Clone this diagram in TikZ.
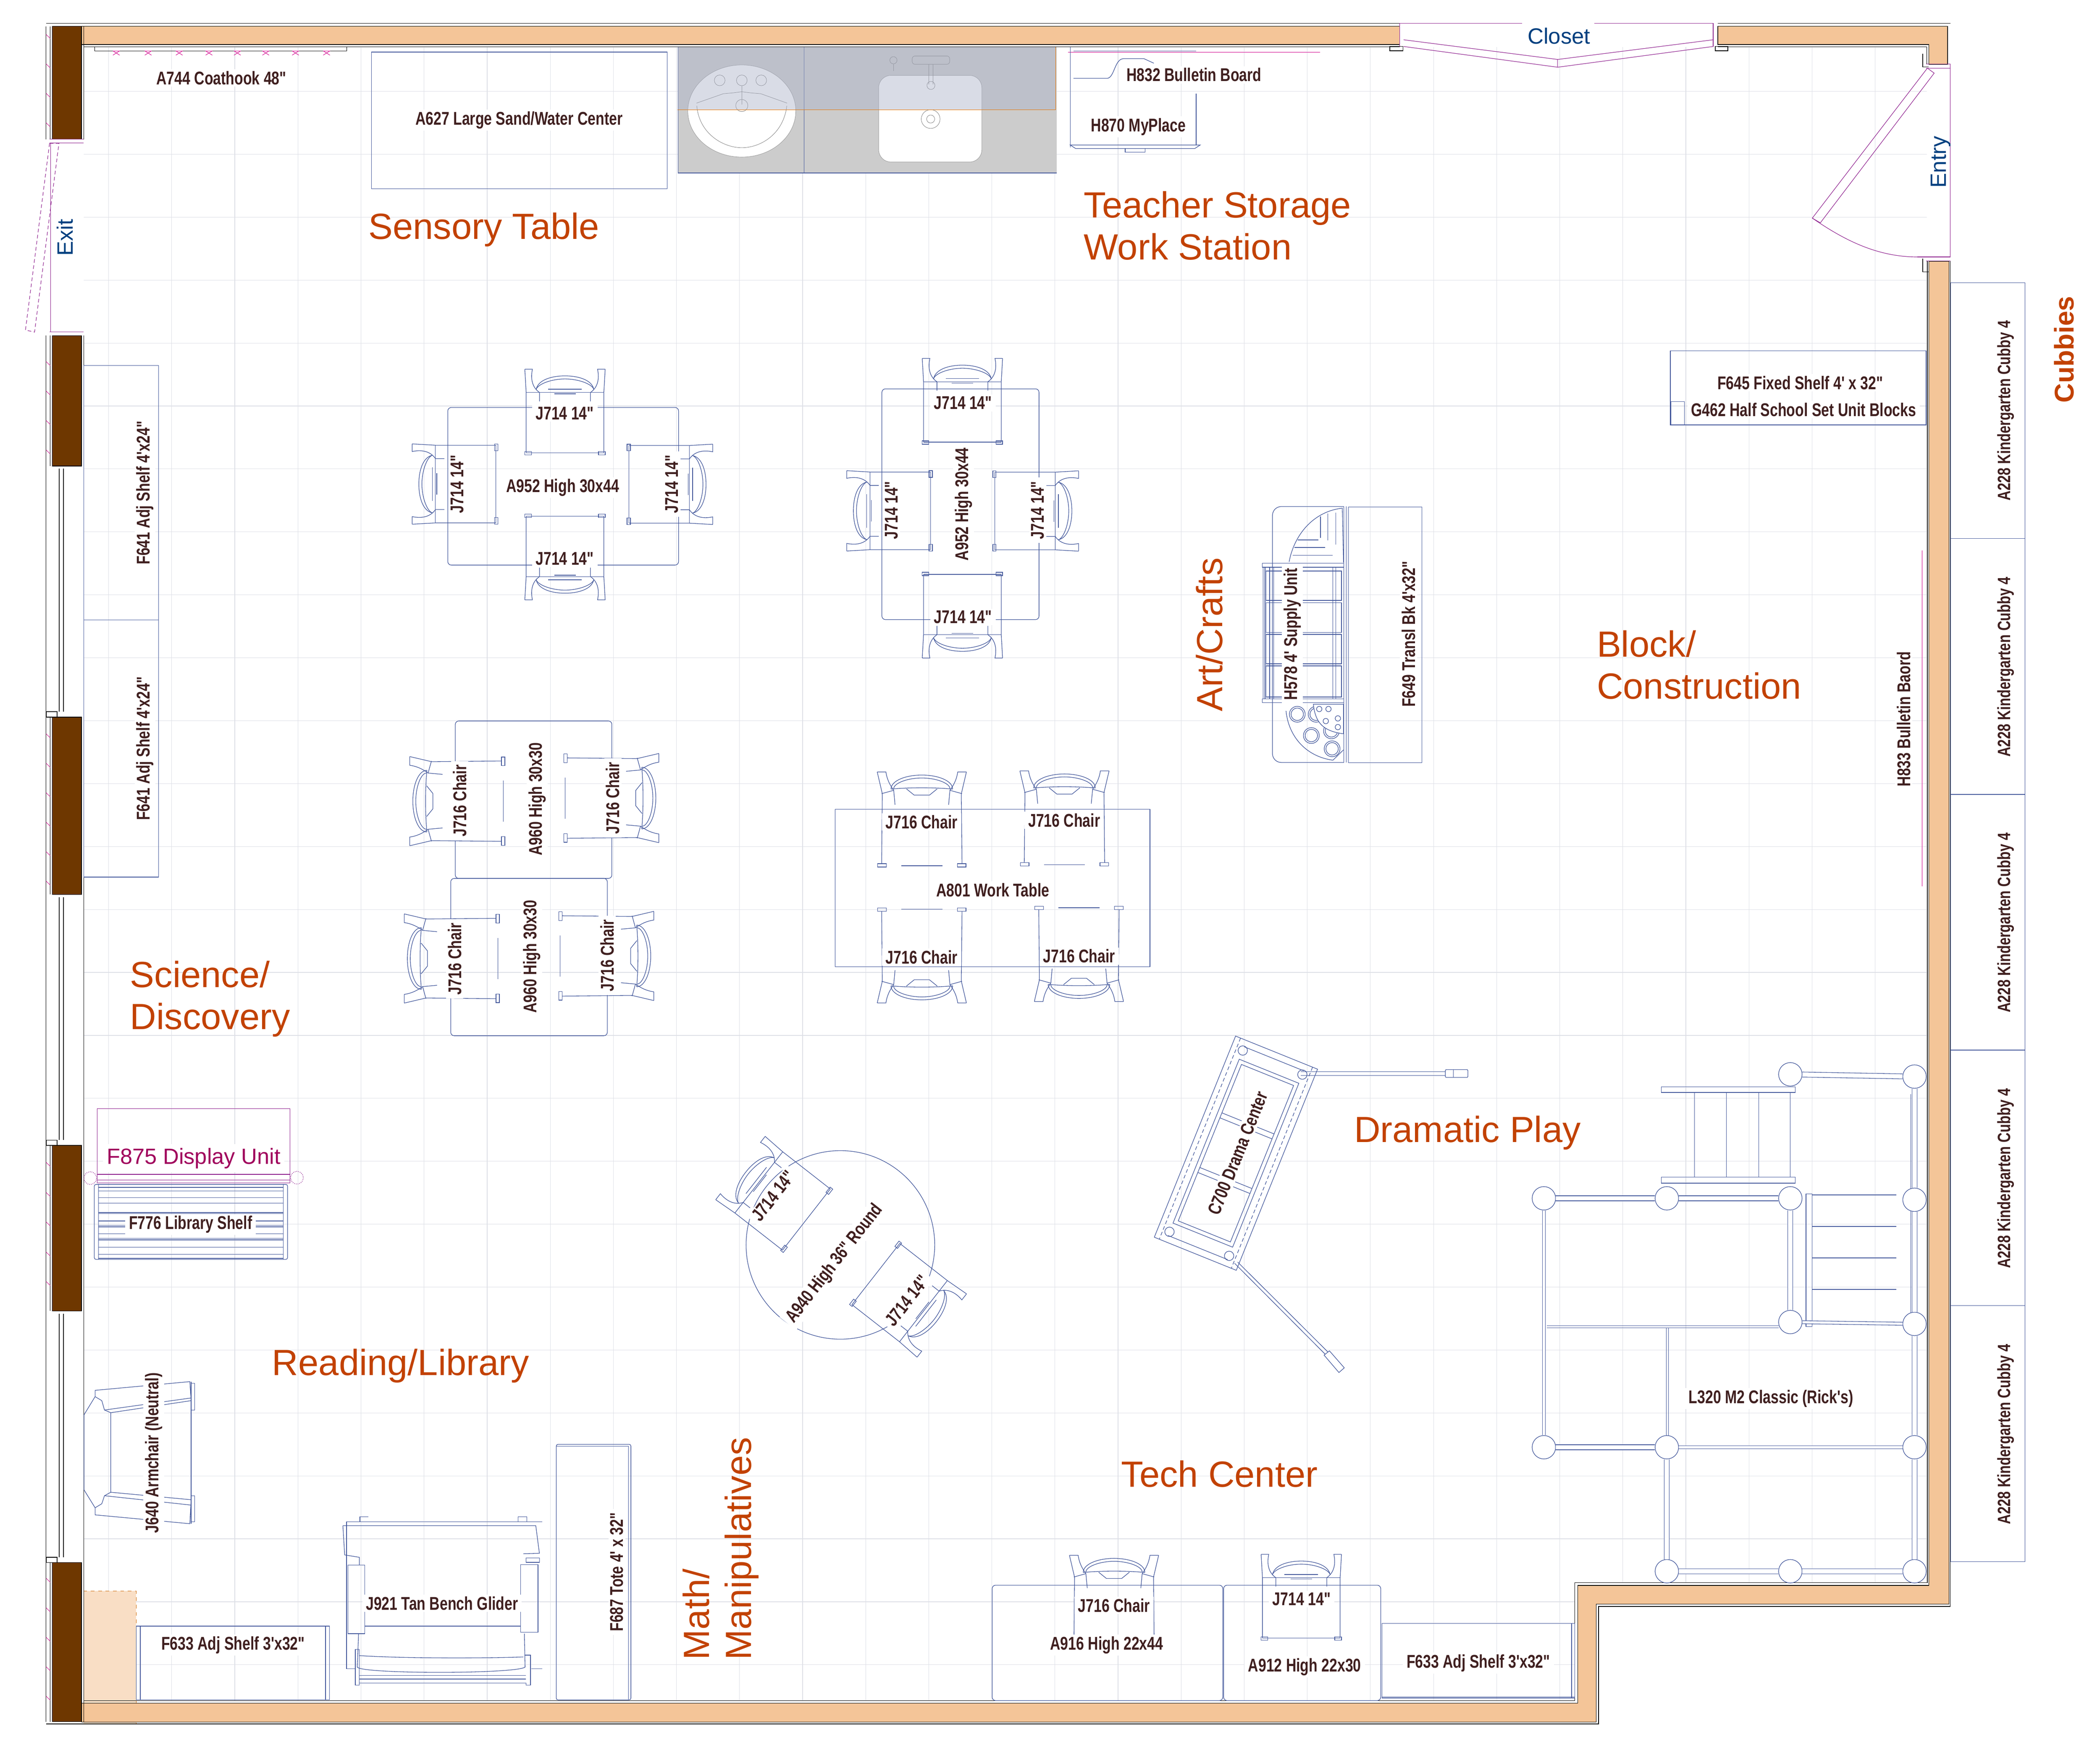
\documentclass[tikz,border=0pt]{standalone}
\usepackage{fontspec}
\usepackage{xcolor}
\usetikzlibrary{positioning}
\setmainfont{Liberation Sans}
\newfontfamily\narrowfont[FakeStretch=0.77]{Liberation Sans}
\definecolor{walltan}{HTML}{F4C598}
\definecolor{wallbrown}{HTML}{6E3700}
\definecolor{furnblue}{HTML}{3F5499}
\definecolor{doorpurple}{HTML}{8B1A8B}
\definecolor{gridgrey}{HTML}{DDDFE6}
\definecolor{zonered}{HTML}{C24100}
\definecolor{signblue}{HTML}{003F7F}
\definecolor{itemtext}{HTML}{3F1F1F}
\definecolor{displayred}{HTML}{A0005C}
\definecolor{hookpink}{HTML}{D0008A}
\definecolor{patchtan}{HTML}{F9DEC5}
\definecolor{sinktop}{HTML}{ABB2C8}
\begin{document}
\begin{tikzpicture}[x=0.03827cm, y=-0.03827cm,
			furn/.style={draw=furnblue, line width=0.45pt},
			door/.style={draw=doorpurple, line width=0.4pt},
			wallline/.style={draw=black, line width=0.5pt},
			item/.style={fill=white, text=itemtext, inner xsep=3pt, inner ysep=1.5pt, align=center, font=\narrowfont\fontsize{15}{18}\selectfont\bfseries},
			itemv/.style={item, xshift=0.05cm, rotate=90},
			cubbylabel/.style={itemv, font=\narrowfont\fontsize{14.5}{18}\selectfont\bfseries},
			zone/.style={text=zonered, inner sep=0pt, align=left, font=\fontsize{29.6}{34}\selectfont},
			sign/.style={text=signblue, inner sep=0pt, font=\fontsize{18}{22}\selectfont},
			post/.style={circle, draw=furnblue, line width=0.45pt, fill=white, minimum size=0.67cm, inner sep=0pt},
			beam/.style={draw=furnblue, line width=0.45pt, double=white, double distance=3.6pt},
			beamthin/.style={draw=furnblue, line width=0.45pt, double=white, double distance=2pt},
			chairA/.pic={
					\foreach \s in {-1,1}{
							\draw[furn] ({\s*30},-32) -- ({\s*24.3},-32) .. controls ({\s*26},-24) and ({\s*24},-18) .. ({\s*19},-14.6) -- ({\s*19},-8);
							\draw[furn] ({\s*30},-32) -- ({\s*29},-14.6) -- ({\s*29},30.5);
							\draw[furn] ({\s*30},29.5) rectangle ({\s*25},32);
						}
					\draw[furn] (-21.5,-17) .. controls (-20,-24) and (-10,-27) .. (0,-27) .. controls (10,-27) and (20,-24) .. (21.5,-17);
					\draw[furn] (-21.5,-17) .. controls (-20,-21) and (-10,-24.7) .. (0,-24.7) .. controls (10,-24.7) and (20,-21) .. (21.5,-17);
					\draw[furn] (-29,-14.6) -- (29,-14.6);
					\draw[furn] (-12.5,-17) -- (12.5,-17);
					\draw[furn] (-8,-13.6) -- (8,-13.6);
					\draw[furn] (-29,30.5) -- (29,30.5);
				},
			chairB/.pic={
					\foreach \s in {-1,1}{
							\draw[furn] ({\s*33.3},-35.5) -- ({\s*26.8},-35.5) .. controls ({\s*26},-30) and ({\s*24},-26) .. ({\s*21},-21.8) -- ({\s*20},-11);
							\draw[furn] ({\s*33.3},-35.5) -- ({\s*29.5},-19.3) -- ({\s*30},33);
							\draw[furn] ({\s*33},33) rectangle ({\s*26.5},35.5);
							\draw[furn] ({\s*21},-21.8) -- ({\s*30},-19.3);
						}
					\draw[furn] (-23,-22.7) .. controls (-23,-29) and (-12,-33.2) .. (0,-33.2) .. controls (12,-33.2) and (23,-29) .. (23,-22.7);
					\draw[furn] (-21,-23) .. controls (-21,-27) and (-11,-31) .. (0,-31) .. controls (11,-31) and (21,-27) .. (21,-23);
					\draw[furn] (-23,-22.7) .. controls (-10,-24) and (10,-24) .. (23,-22.7);
					\draw[furn] (-11.5,-22.9) -- (-5.7,-18.2) -- (5.7,-18.2) -- (11.5,-22.9);
					\draw[furn] (-15.3,34.5) -- (15.3,34.5);
				}
		]
	\useasboundingbox (0,0) rectangle (1567.8,1306.8);
	% Floor grid
	\begin{scope}
		\clip (62.5,35) -- (1438.5,35) -- (1438.5,1182) -- (1175.7,1182) -- (1175.7,1270) -- (62.5,1270) -- cycle;
		\foreach \x in {81.1,128.2,...,1440}{
				\draw[gridgrey, line width=0.4pt] (\x,35) -- (\x,1270);
			}
		\foreach \y in {68.2,115.2,...,1270}{
				\draw[gridgrey, line width=0.4pt] (62.5,\y) -- (1438.5,\y);
			}
	\end{scope}
	% Walls
	\fill[patchtan] (62.3,1188.2) rectangle (101.7,1287.3);
	\draw[draw=orange!80!black, dashed, line width=0.4pt] (62.3,1188.2) -- (101.7,1188.2) -- (101.7,1287.3);
	\filldraw[fill=walltan, wallline] (61,19.6) -- (1045,19.6) -- (1045,33.2) -- (61,33.2) -- cycle;
	\filldraw[fill=walltan, wallline] (1282.4,19.6) -- (1454,19.6) -- (1454,47.9) -- (1440,47.9) -- (1440,33.2) -- (1282.4,33.2) -- cycle;
	\filldraw[fill=walltan, wallline] (1440,195) -- (1455,195) -- (1455,1198) -- (1191.6,1198) -- (1191.6,1286) -- (61,1286) -- (61,1272) -- (1177.8,1272) -- (1177.8,1184) -- (1440,1184) -- cycle;
	\draw[wallline] (62.5,35) -- (1045,35);
	\draw[wallline] (1282.4,35) -- (1438.5,35) -- (1438.5,48);
	\draw[wallline] (34.4,17.4) -- (1045,17.4);
	\draw[wallline] (1282.4,17.4) -- (1456,17.4);
	\draw[wallline] (1438.9,195) -- (1438.9,1182) -- (1175.7,1182) -- (1175.7,1270) -- (62.5,1270);
	\draw[wallline] (1456,195) -- (1456,1199.7) -- (1193.4,1199.7) -- (1193.4,1287.5) -- (34.4,1287.5);
	\draw[wallline] (1435.5,40) -- (1435.5,50) -- (1440,50);
	\draw[wallline] (1435.5,193) -- (1435.5,203) -- (1440,203);
	\draw[wallline] (1037.5,34.7) rectangle (1047.5,38);
	\draw[wallline] (1280.5,34.7) rectangle (1290,38);
	% Left wall piers and windows
	\foreach \a/\b in {19.6/104,250.6/348,535.5/668,855.4/979,1166.9/1285.8}{
			\filldraw[fill=wallbrown, wallline] (39,\a) rectangle (60.9,\b);
			\draw[wallline] (34.4,\a) -- (34.4,\b);
			\draw[wallline] (37.5,\a) -- (37.5,\b);
			\draw[wallline] (62.5,\a) -- (62.5,\b);
		}
	\foreach \a/\b in {348/535.5,668/855.4,979/1166.9}{
			\draw[wallline] (34.4,\a) -- (34.4,\b);
			\draw[wallline] (62.5,\a) -- (62.5,\b);
			\draw[wallline] (44.2,{\a+2}) -- (44.2,{\b-4});
			\draw[wallline] (47.4,{\a+2}) -- (47.4,{\b-4});
			\draw[wallline] (34.7,{\b-4}) rectangle (42.7,\b);
		}
	\foreach \y in {25.7,47.7,69.7,91.7,270,292,314,336,548,570,592,614,636,658,868,890.5,912.5,935,957,1178.6,1200.7,1222.7,1244.7,1266.7}{
			\draw[hookpink, line width=0.3pt] (34.4,\y) -- (37.5,{\y+3});
		}
	% Exit door, closet and entry
	\draw[door] (37,104) -- (62.5,104);
	\draw[door] (37,106.7) -- (62.5,106.7);
	\draw[door] (37,247.8) -- (62.5,247.8);
	\draw[door] (37.7,106.7) -- (37.7,247.8);
	\draw[door, densely dashed] (37,107) -- (19,246.5) -- (25.8,248) -- (44,107) -- cycle;
	\draw[door] (1045,17.3) -- (1045,34.7);
	\draw[door] (1279,17.3) -- (1279,34.7);
	\draw[door] (1045,17.3) -- (1136.4,17.3);
	\draw[door] (1190.4,17.3) -- (1279,17.3);
	\draw[door] (1047.9,29.7) -- (1162.9,44.4) -- (1279,29.7);
	\draw[door] (1047.9,34.7) -- (1162.9,50.2) -- (1279,34.7);
	\draw[door] (1162.9,44.4) -- (1162.9,50.2);
	\draw[door] (1438,47.9) -- (1456,47.9);
	\draw[door] (1438,50.9) -- (1456,50.9);
	\draw[door] (1431.5,191.9) -- (1456,191.9);
	\draw[door] (1438,195) -- (1456,195);
	\draw[door] (1456,47.9) -- (1456,191.9);
	\draw[door] (1438.9,50.9) -- (1444,54.6) -- (1359,166.4) -- (1353,162.9) -- cycle;
	\draw[door] (1353,162.9) .. controls (1375,178) and (1400,191.9) .. (1431.5,191.9);
	% Coat hooks
	\draw[wallline, line width=0.3pt] (70.8,35) rectangle (258.8,38);
	\foreach \x in {86.8,110.6,133.8,156,177.2,198.4,220.6,243.8}{
			\draw[hookpink, line width=0.35pt] ({\x-2.5},38) -- ({\x+2.5},41.2);
			\draw[hookpink, line width=0.35pt] ({\x+2.5},38) -- ({\x-2.5},41.2);
			\draw[hookpink, line width=0.35pt] ({\x-2.5},38) -- ({\x+2.5},38);
		}
	% Sand table and sinks
	\draw[furn] (277.4,38.9) rectangle (498,141);
	\fill[black!20] (506.3,35) rectangle (789,129.2);
	\draw[furn] (506.3,35) -- (506.3,129.2) -- (789,129.2);
	\draw[furn] (600.3,35) -- (600.3,129.2);
	\filldraw[fill=white, draw=black!40, line width=0.3pt] (553.8,82.9) ellipse [x radius=40.3, y radius=34.4];
	\draw[black!50, line width=0.3pt] (520.2,79) .. controls (522,100) and (540,110.3) .. (553.8,110.3) .. controls (568,110.3) and (585,100) .. (587.4,79);
	\draw[black!50, line width=0.3pt] (520,77) -- (540,70) -- (547.6,69.3) -- (553.8,68.5) -- (560,69.3) -- (568,70) -- (587.6,77);
	\foreach \x in {537.3,553.8,568.3}{
			\draw[black!50, line width=0.3pt] (\x,60) circle [radius=4];
		}
	\draw[black!50, line width=0.3pt] (553.8,64) -- (553.8,78);
	\draw[black!50, line width=0.3pt] (553.8,78.8) circle [radius=4.5];
	\filldraw[fill=white, draw=black!40, line width=0.3pt, rounded corners=0.35cm] (656,56.3) rectangle (733,121);
	\draw[black!50, line width=0.3pt] (694.8,88.9) circle [radius=7];
	\draw[black!50, line width=0.3pt] (694.8,88.9) circle [radius=3];
	\draw[black!50, line width=0.3pt, rounded corners=0.08cm] (681,41.8) rectangle (709,48);
	\draw[black!50, line width=0.3pt] (693.5,48) -- (693.5,63);
	\draw[black!50, line width=0.3pt] (696.5,48) -- (696.5,63);
	\draw[black!50, line width=0.3pt] (695,63.8) circle [radius=3];
	\draw[black!50, line width=0.3pt] (667,45) circle [radius=2.7];
	\draw[black!50, line width=0.3pt] (667,48) -- (667,53);
	\fill[sinktop, fill opacity=0.45] (505.7,35) rectangle (788,82.1);
	\draw[draw=orange!90!black, line width=0.35pt] (505.7,82.1) -- (788,82.1) -- (788,35);
	% Teacher storage
	\draw[hookpink, line width=0.4pt] (797.4,39) -- (985.4,39);
	\draw[furn] (801.4,38.1) -- (893,38.1);
	\draw[furn] (799.2,35) -- (799.2,110);
	\draw[furn] (801.4,58.5) -- (826.4,58.5) .. controls (832,58.5) and (832,43.8) .. (838.9,43.8) -- (854,43.8) -- (861.4,47.2);
	\draw[furn] (893,70) -- (893,108.3);
	\draw[furn] (799,108.3) -- (896,108.3) -- (892,110.9) -- (803,110.9) -- cycle;
	\draw[furn] (840,113.7) rectangle (855,110.9);
	% Bulletin board and block shelves
	\draw[hookpink, line width=0.4pt] (1435,411) -- (1435,662);
	\draw[furn] (1247,262) rectangle (1438,317.3);
	\draw[furn] (1247.5,300) rectangle (1257.5,317.3);
	% Cubbies
	\foreach \a/\b in {211.2/402.2,402.2/593.2,593.2/784.2,784.2/975.1,975.1/1166.3}{
			\draw[furn] (1456.3,\a) rectangle (1511.7,\b);
		}
	% Wall shelves
	\draw[furn] (62.5,273) rectangle (118.3,463);
	\draw[furn] (62.5,463) rectangle (118.3,655);
	% Display unit and library shelf
	\draw[door] (72.5,827.9) rectangle (216.5,883.5);
	\draw[door] (72.5,877) -- (216.5,877);
	\draw[door] (72.5,881.2) -- (216.5,881.2);
	\draw[door, densely dotted, line width=0.6pt] (67.4,879.8) circle [radius=4.7];
	\draw[door, densely dotted, line width=0.6pt] (221.7,879.5) circle [radius=4.7];
	\draw[furn, rounded corners=0.05cm] (70.4,884.5) rectangle (214.7,940.5);
	\draw[furn] (73.5,884.5) -- (73.5,940.5);
	\draw[furn] (211.5,884.5) -- (211.5,940.5);
	\foreach \y in {886.7,889.5,894.5,898.4,905.5,906.3,911.8,915.2,916.2,921.4,924.8,925.9,931.4,936.8,939.7}{
			\draw[furn] (73.5,\y) -- (211.5,\y);
		}
	% Tables with J714 chairs
	\draw[furn, rounded corners=0.1cm] (334.3,304.3) rectangle (506.6,422);
	\pic at (421.8,307.7) {chairA};
	\pic[rotate=180] at (421.8,416) {chairA};
	\pic[rotate=90] at (339.7,361.5) {chairA};
	\pic[rotate=-90] at (500.1,361.7) {chairA};
	\draw[furn, rounded corners=0.1cm] (658.4,290.4) rectangle (775.7,462.7);
	\pic at (718.5,299.7) {chairA};
	\pic[rotate=180] at (718.5,459.4) {chairA};
	\pic[rotate=90] at (664.1,381.5) {chairA};
	\pic[rotate=-90] at (773.2,381.6) {chairA};
	% Tables with J716 chairs
	\draw[furn, rounded corners=0.1cm] (339.9,538.4) rectangle (456.8,656);
	\draw[furn, rounded corners=0.1cm] (336.5,656) rectangle (453.4,773.5);
	\pic[rotate=90] at (341.4,598.3) {chairB};
	\pic[rotate=-90] at (456.4,596) {chairB};
	\pic[rotate=90] at (337.3,715.8) {chairB};
	\pic[rotate=-90] at (452.6,713.9) {chairB};
	\draw[furn] (623.6,604.4) rectangle (858.5,722);
	\pic at (688.2,612) {chairB};
	\pic at (794.7,611.2) {chairB};
	\pic[rotate=180] at (688.2,713.5) {chairB};
	\pic[rotate=180] at (805.5,712.4) {chairB};
	% Round table
	\draw[furn] (627.4,929.7) circle [radius=70.4];
	\pic[rotate=52] at (578,892) {chairA};
	\pic[rotate=232] at (677.9,970.2) {chairA};
	% Supply unit and shelf
	\draw[furn] (1006.6,378.6) rectangle (1061.6,569.6);
	\draw[furn] (1003.3,378.3) -- (1003.3,569.4);
	\draw[furn] (1005,378.3) -- (1005,569.4);
	\draw[furn, rounded corners=0.25cm] (1003.3,378.3) -- (950,378.3) -- (950,569.4) -- (1003.3,569.4);
	\draw[furn] (962.4,419.6) .. controls (966,400) and (980,382) .. (1002.1,379.5) -- (1003,420);
	\draw[furn] (960.1,530.9) .. controls (962,550) and (975,565) .. (995.1,567.7) -- (1003,560);
	\foreach \a/\b in {985.8/385.6,991.4/383.5,997.2/382.8}{
			\draw[furn] (\a,\b) -- (\a,{\b+16+(\a-985.8)*0.7});
		}
	\draw[furn] (968.9,403.2) -- (984.1,403.2);
	\draw[furn] (966.5,408.9) -- (989.3,408.9);
	\draw[furn] (965,414.7) -- (994.9,414.7);
	\draw[furn] (942.4,420.6) rectangle (1003.3,423.6);
	\draw[furn] (942.4,522) rectangle (1003.3,524.8);
	\foreach \a/\b in {426.4/448.4,450.1/472.4,473.8/495.7,497.3/520.5}{
			\draw[furn] (945.2,\a) rectangle (1001.5,\b);
		}
	\draw[furn] (943,423.6) -- (943,522);
	\draw[furn] (944.4,423.6) -- (944.4,522);
	\draw[furn] (947.9,423.6) -- (947.9,522);
	\draw[furn] (950.8,423.6) -- (950.8,522);
	\draw[furn] (995.1,423.6) -- (995.1,522);
	\draw[furn] (997.2,423.6) -- (997.2,522);
	\foreach \a/\b in {968.5/533.4,982.6/533.4,979/549.3,994/545.8,994.5/559.2}{
			\draw[furn] (\a,\b) circle [radius=5.9];
			\draw[furn] (\a,\b) circle [radius=4.6];
		}
	\filldraw[fill=white, draw=furnblue, line width=0.45pt] (980.5,525.9) .. controls (982,540) and (988,546) .. (1003,548) -- (1003,525.9) -- cycle;
	\foreach \a/\b in {984.9/529.5,991.8/529.5,989.8/538.5,998.8/536.5,998.8/543}{
			\draw[furn] (\a,\b) circle [radius=2];
		}
	% Drama center
	\begin{scope}[shift={(922.7,861.2)}, rotate=-22]
		\draw[furn] (-33,-81) rectangle (33,81);
		\draw[furn, densely dashed] (-29,-81) -- (-29,81);
		\draw[furn, densely dashed] (29,-81) -- (29,81);
		\draw[furn] (-24,-66) rectangle (24,66);
		\draw[furn] (-21,-63) rectangle (21,63);
		\foreach \y in {-24,-20,20,24}{
				\draw[furn] (-21,\y) -- (21,\y);
			}
		\draw[furn] (-24,-76) -- (24,-76);
		\draw[furn] (-24,76) -- (24,76);
		\foreach \a/\b in {-24/-73,24/-73,-24/73,24/73}{
				\draw[furn] (\a,\b) circle [radius=3.5];
			}
	\end{scope}
	\draw[furn] (971.2,800.3) -- (1079,800.3);
	\draw[furn] (971.2,803.1) -- (1079,803.1);
	\draw[furn, rounded corners=0.03cm] (1079,798.8) rectangle (1095.9,804.6);
	\draw[furn] (1085,798.8) -- (1085,804.6);
	\draw[furn] (921.7,943.4) -- (989.5,1011.5);
	\draw[furn] (924,942.5) -- (991.5,1009.8);
	\draw[furn] (988.5,1012) -- (992.5,1008.8) -- (1003.6,1021.5) -- (999.6,1025) -- cycle;
	% Playground ladder and slide rails
	\draw[furn] (1240.3,811.6) rectangle (1340.2,815.9);
	\draw[furn] (1240.3,879) rectangle (1340.2,883.6);
	\foreach \x in {1265,1288.9,1313,1336.6}{
			\draw[furn] (\x,815.9) -- (\x,879);
		}
	\draw[furn] (1348.3,891.5) rectangle (1352.8,990.7);
	\foreach \y in {892.4,915.9,939.4,962.9,987.8}{
			\draw[furn] (1352.8,\y) -- (1415.8,\y);
		}
	\draw[furn] (1426.6,817) -- (1426.6,981.6);
	% Playground posts
	\node [post] (p1) at (1336.6,802.3) {};
	\node [post] (p2) at (1429.3,804) {};
	\node [post] (p3) at (1152.6,894.9) {};
	\node [post] (p4) at (1244.4,894.9) {};
	\node [post] (p5) at (1336.6,894.9) {};
	\node [post] (p6) at (1429.3,896) {};
	\node [post] (p7) at (1336.6,987.3) {};
	\node [post] (p8) at (1429.3,988.7) {};
	\node [post] (p9) at (1152.6,1080.8) {};
	\node [post] (p10) at (1244.4,1080.8) {};
	\node [post] (p11) at (1429.3,1080.8) {};
	\node [post] (p12) at (1244.4,1173.4) {};
	\node [post] (p13) at (1336.6,1173.4) {};
	\node [post] (p14) at (1429.3,1173.4) {};
	% Playground beams
	\path [beam] (p1) -- (p2);
	\path [beam] (p3) -- (p4);
	\path [beam] (p4) -- (p5);
	\path [beamthin] (p3) -- (p9);
	\path [beam] (p9) -- (p10);
	\path [beamthin] (p10) -- (p11);
	\path [beam] (p12) -- (p13);
	\path [beam] (p13) -- (p14);
	\path [beam] (p10) -- (p12);
	\path [beam] (p5) -- (p7);
	\path [beam] (p2) -- (p6);
	\path [beam] (p6) -- (p8);
	\path [beam] (p8) -- (p11);
	\path [beam] (p11) -- (p14);
	\path [beamthin] (p7) -- (p8);
	\draw[furn] (1154.8,990.1) -- (1328,990.1);
	\draw[furn] (1154.8,991.6) -- (1328,991.6);
	\draw[furn] (1244,991.6) -- (1244,1072);
	\draw[furn] (1245.5,991.6) -- (1245.5,1072);
	% Armchair
	\draw[furn] (71,1043) -- (71,1038.3) -- (141.7,1031.8) -- (142.7,1046) -- (82.7,1055) -- (82.7,1114.4) -- (142.7,1120) -- (141.7,1137.9) -- (71,1131.3) -- (71,1126);
	\draw[furn] (142.7,1031.8) -- (142.7,1137.9);
	\draw[furn] (142.7,1033) rectangle (145.3,1053);
	\draw[furn] (142.7,1117) rectangle (145.3,1136.4);
	\draw[furn] (71,1043) -- (76,1046) -- (78,1053) -- (82.7,1055);
	\draw[furn] (71,1126) -- (76,1123) -- (78,1117) -- (82.7,1114.4);
	\draw[furn] (71,1043) -- (62.7,1056.6) -- (62.7,1112.6) -- (71,1126);
	\draw[furn] (78,1053) -- (142.7,1044);
	\draw[furn] (78,1117) -- (142.7,1124);
	% Bench glider
	\draw[furn] (258.7,1136.4) -- (404.7,1136.4);
	\draw[furn] (268.7,1136.4) -- (268.7,1132.8) -- (275,1132.8);
	\draw[furn] (386.7,1136.4) -- (386.7,1132.8) -- (393.3,1132.8) -- (393.3,1136.4);
	\draw[furn] (256,1139.4) -- (400,1139.4) -- (402.7,1160) -- (390.7,1160.3);
	\draw[furn] (256,1139.4) -- (257.3,1161.2) -- (268.3,1163) -- (268.3,1168.7);
	\draw[furn] (259.7,1168.7) rectangle (272.3,1220);
	\draw[furn] (388.7,1168.4) rectangle (401.7,1219);
	\draw[furn] (392.7,1163.4) rectangle (402.7,1166.7);
	\draw[furn] (272.3,1214.4) -- (388.7,1214.4);
	\draw[furn] (268.3,1236.4) .. controls (300,1238.5) and (360,1238.5) .. (390.7,1237.4);
	\draw[furn] (267.7,1220) -- (266.7,1245) .. controls (270,1250.2) and (385,1250.2) .. (392,1245) -- (391.5,1220);
	\foreach \y in {1251.3,1253.9,1256.8}{
			\draw[furn] (268.3,\y) -- (392.7,\y);
		}
	\draw[furn] (265.3,1231.9) rectangle (268.3,1258.5);
	\draw[furn] (392.7,1256.8) -- (392.7,1258.5) -- (396,1258.5) -- (396,1236) -- (391.5,1236);
	\draw[furn] (258.7,1136.4) -- (258.7,1246.2) -- (265.3,1246.2);
	\draw[furn] (396.7,1246.2) -- (404.7,1246.2);
	% Low shelves and tote storage
	\draw[furn] (101.7,1214.4) rectangle (246,1269.5);
	\draw[furn] (104.7,1214.4) -- (104.7,1269.5);
	\draw[furn] (243,1214.4) -- (243,1269.5);
	\draw[furn, rounded corners=0.05cm] (415.3,1078.6) rectangle (471,1269.5);
	\draw[furn] (415.3,1080) -- (469.3,1080) -- (469.3,1269.5);
	\draw[furn, rounded corners=0.1cm] (740.7,1183.8) rectangle (912.9,1270);
	\draw[furn, rounded corners=0.1cm] (913.5,1183.8) rectangle (1030.8,1270);
	\pic at (831.7,1197) {chairB};
	\pic at (971.5,1192.8) {chairA};
	\draw[furn] (1031.7,1212.3) rectangle (1175.7,1268);
	\draw[furn] (1173.3,1212.3) -- (1173.3,1268);
	\draw[furn] (1031.7,1267.2) -- (1175.7,1267.2);
	% Place labels
	\node [item] (coathook) at (165.3,58.3) {A744 Coathook 48"};
	\node [item] (sandwater) at (387.5,89.8) {A627 Large Sand/Water Center};
	\node [item] (bulletin) at (891.4,55.9) {H832 Bulletin Board};
	\node [item] (myplace) at (849.9,94.7) {H870 MyPlace};
	\node [item] (fixedshelf) at (1344,285.9) {F645 Fixed Shelf 4' x 32"};
	\node [item] (unitblocks) at (1346.5,306) {G462 Half School Set Unit Blocks};
	\node [itemv] (boardh) at (1420,537) {H833 Bulletin Baord};
	\node [itemv] (shelfa) at (107,368) {F641 Adj Shelf 4'x24"};
	\node [itemv] (shelfb) at (107,559) {F641 Adj Shelf 4'x24"};
	\node [cubbylabel] (cubbya) at (1496,306.7) {A228 Kindergarten Cubby 4};
	\node [cubbylabel] (cubbyb) at (1496,498) {A228 Kindergarten Cubby 4};
	\node [cubbylabel] (cubbyc) at (1496,689) {A228 Kindergarten Cubby 4};
	\node [cubbylabel] (cubbyd) at (1496,880) {A228 Kindergarten Cubby 4};
	\node [cubbylabel] (cubbye) at (1496,1071) {A228 Kindergarten Cubby 4};
	\node [item] (chaira) at (421.6,308.7) {J714 14"};
	\node [item] (chairb) at (421.6,417.2) {J714 14"};
	\node [itemv] (chairc) at (340,361.5) {J714 14"};
	\node [itemv] (chaird) at (500.2,361.5) {J714 14"};
	\node [item] (tablea) at (420.1,364.2) {A952 High 30x44};
	\node [item] (chaire) at (718.9,301) {J714 14"};
	\node [item] (chairf) at (718.9,460.8) {J714 14"};
	\node [itemv] (chairg) at (664.4,381) {J714 14"};
	\node [itemv] (chairh) at (773.3,381) {J714 14"};
	\node [itemv] (tableb) at (718,376.5) {A952 High 30x44};
	\node [itemv] (chairi) at (342,598) {J716 Chair};
	\node [itemv] (chairj) at (456.2,596) {J716 Chair};
	\node [itemv] (tablec) at (399.7,596.8) {A960 High 30x30};
	\node [itemv] (chairk) at (338.1,716) {J716 Chair};
	\node [itemv] (chairl) at (452,713.5) {J716 Chair};
	\node [itemv] (tabled) at (395.8,714.3) {A960 High 30x30};
	\node [item] (chairm) at (688,613.8) {J716 Chair};
	\node [item] (chairn) at (794.5,612.6) {J716 Chair};
	\node [item] (chairo) at (688,714.8) {J716 Chair};
	\node [item] (chairp) at (805.6,714) {J716 Chair};
	\node [item] (worktable) at (741.2,664.6) {A801 Work Table};
	\node [item, rotate=52] (roundtable) at (623.2,943.7) {A940 High 36" Round};
	\node [item, rotate=52] (chairq) at (577.3,893) {J714 14"};
	\node [item, rotate=52] (chairr) at (677.2,971.2) {J714 14"};
	\node [itemv] (supplyunit) at (963.4,473.5) {H578 4' Supply Unit};
	\node [itemv] (translbk) at (1050.3,473.5) {F649 Transl Bk 4'x32"};
	\node [item, rotate=68] (drama) at (924,861.2) {C700 Drama Center};
	\node [item] (climber) at (1322.2,1044.5) {L320 M2 Classic (Rick's)};
	\node [item] (libshelf) at (142.3,914.5) {F776 Library Shelf};
	\node [itemv] (armchair) at (113.5,1085) {J640 Armchair (Neutral)};
	\node [item] (glider) at (330,1197.4) {J921 Tan Bench Glider};
	\node [item] (adjshelfa) at (174,1228.5) {F633 Adj Shelf 3'x32"};
	\node [itemv] (tote) at (459.2,1174) {F687 Tote 4' x 32"};
	\node [item] (chairs) at (831.6,1198.9) {J716 Chair};
	\node [item] (tablee) at (826.2,1228.5) {A916 High 22x44};
	\node [item] (chairt) at (971.7,1194.2) {J714 14"};
	\node [item] (tablef) at (974,1244.8) {A912 High 22x30};
	\node [item] (adjshelfb) at (1103.7,1242) {F633 Adj Shelf 3'x32"};
	\node [fill=white, text=displayred, inner sep=3pt, font=\fontsize{17.9}{21}\selectfont] (displayunit) at (144.6,865) {F875 Display Unit};
	% Doors
	\node [sign] (closet) at (1163.9,27) {Closet};
	\node [sign, rotate=90] (exit) at (48.5,177.4) {Exit};
	\node [sign, rotate=90] (entry) at (1449,121) {Entry};
	% Activity areas
	\node [zone, anchor=west] (sensory) at (275,171.5) {Sensory Table};
	\node [zone, anchor=west] (teacher) at (809,168.5) {Teacher Storage\\Work Station};
	\node [zone, anchor=west] (block) at (1192,496.5) {Block/\\Construction};
	\node [zone, rotate=90] (art) at (903,474) {Art/Crafts};
	\node [zone, anchor=west] (science) at (97,746) {Science/\\Discovery};
	\node [zone, anchor=west] (reading) at (203,1020) {Reading/Library};
	\node [zone, anchor=west] (dramatic) at (1010.8,846) {Dramatic Play};
	\node [zone, anchor=west] (tech) at (837,1100.8) {Tech Center};
	\node [zone, rotate=90] (math) at (538,1156.5) {Math/\\Manipulatives};
	\node [zone, rotate=90, font=\fontsize{22}{26}\selectfont\bfseries] (cubbies) at (1541,261) {Cubbies};
\end{tikzpicture}
\end{document}
